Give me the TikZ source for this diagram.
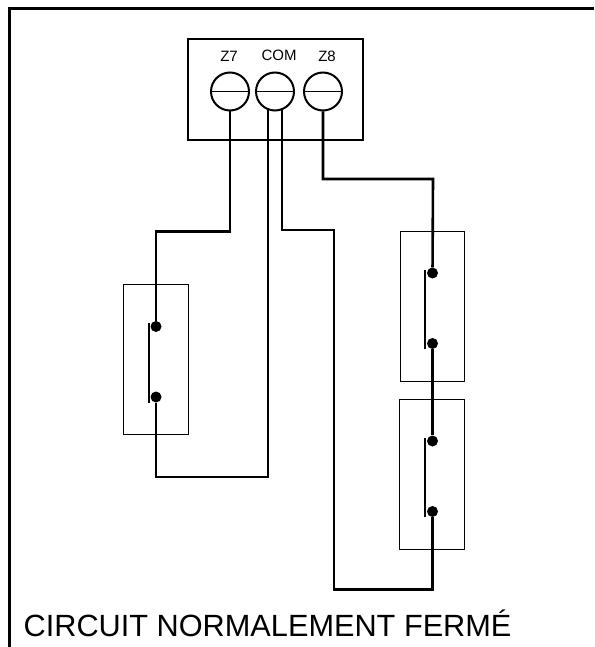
\documentclass[tikz,border=0pt]{standalone}
\usepackage{fontspec}
\setmainfont{Liberation Sans}

\tikzset{
    frameline/.style={line width=3pt},
    boxline/.style={line width=2pt},
    slotline/.style={line width=1.5pt},
    thinbox/.style={line width=1pt},
    wire/.style={line width=2.6pt, line join=miter},
    bar/.style={line width=2.6pt},
    terminal/.style={circle, draw, line width=2pt, minimum size=38pt, inner sep=0pt},
    contact/.style={circle, fill=black, minimum size=11pt, inner sep=0pt},
    termlabel/.style={anchor=base, inner sep=0pt, font=\fontsize{15}{15}\selectfont}
}

\begin{document}
\begin{tikzpicture}[x=1pt, y=-1pt]
    \useasboundingbox (0,0) rectangle (594,647);

    \draw [frameline] (9,647) -- (9,8.5) -- (594,8.5);

    \draw [boxline] (188,39.5) rectangle (363,140.5);
    \draw [thinbox] (123.5,284.5) rectangle (188.5,434.5);
    \draw [thinbox] (400,231) rectangle (464.5,381);
    \draw [thinbox] (399.5,399) rectangle (464.5,549);

    \node [termlabel] (labelzseven) at (229,61.5) {Z7};
    \node [termlabel] (labelcom) at (279,60.5) {COM};
    \node [termlabel] (labelzeight) at (327,61.5) {Z8};

    \node [terminal] (zseven) at (230,91.5) {};
    \node [terminal] (com) at (275,91.5) {};
    \node [terminal] (zeight) at (323,91.5) {};
    \draw [slotline] (zseven.west) -- (zseven.east);
    \draw [slotline] (com.west) -- (com.east);
    \draw [slotline] (zeight.west) -- (zeight.east);

    \node [contact] (lefttop) at (156,326.5) {};
    \node [contact] (leftbot) at (156,397) {};
    \node [contact] (upptop) at (432.5,273) {};
    \node [contact] (uppbot) at (432.5,343.5) {};
    \node [contact] (lowtop) at (432.5,441) {};
    \node [contact] (lowbot) at (432.5,511.5) {};

    \draw [bar] (149,323) -- (149,402.5);
    \draw [bar] (425,270) -- (425,348.5);
    \draw [bar] (425,438) -- (425,516.5);

    % corners and the two ends under COM
    \coordinate (comleft) at (268,108);
    \coordinate (comright) at (282,108);
    \coordinate (bendzseven) at (156,231.5);
    \coordinate (bendleft) at (156,477);
    \coordinate (bendzeight) at (433,179);
    \coordinate (bendcom) at (334,230);
    \coordinate (bendbot) at (334,589.5);

    \draw [wire] (zseven.south) |- (bendzseven) -- (lefttop);
    \draw [wire] (leftbot) -- (bendleft) -| (comleft);
    \draw [wire] (comright) |- (bendcom) -- (bendbot) -| (lowbot);
    \draw [wire] (zeight.south) |- (bendzeight) -- (upptop);
    \draw [wire] (uppbot) -- (lowtop);

    \node [anchor=base west, inner sep=0pt, font=\fontsize{30.7}{31}\selectfont] (caption) at (23.5,636) {CIRCUIT NORMALEMENT FERMÉ};
\end{tikzpicture}
\end{document}
